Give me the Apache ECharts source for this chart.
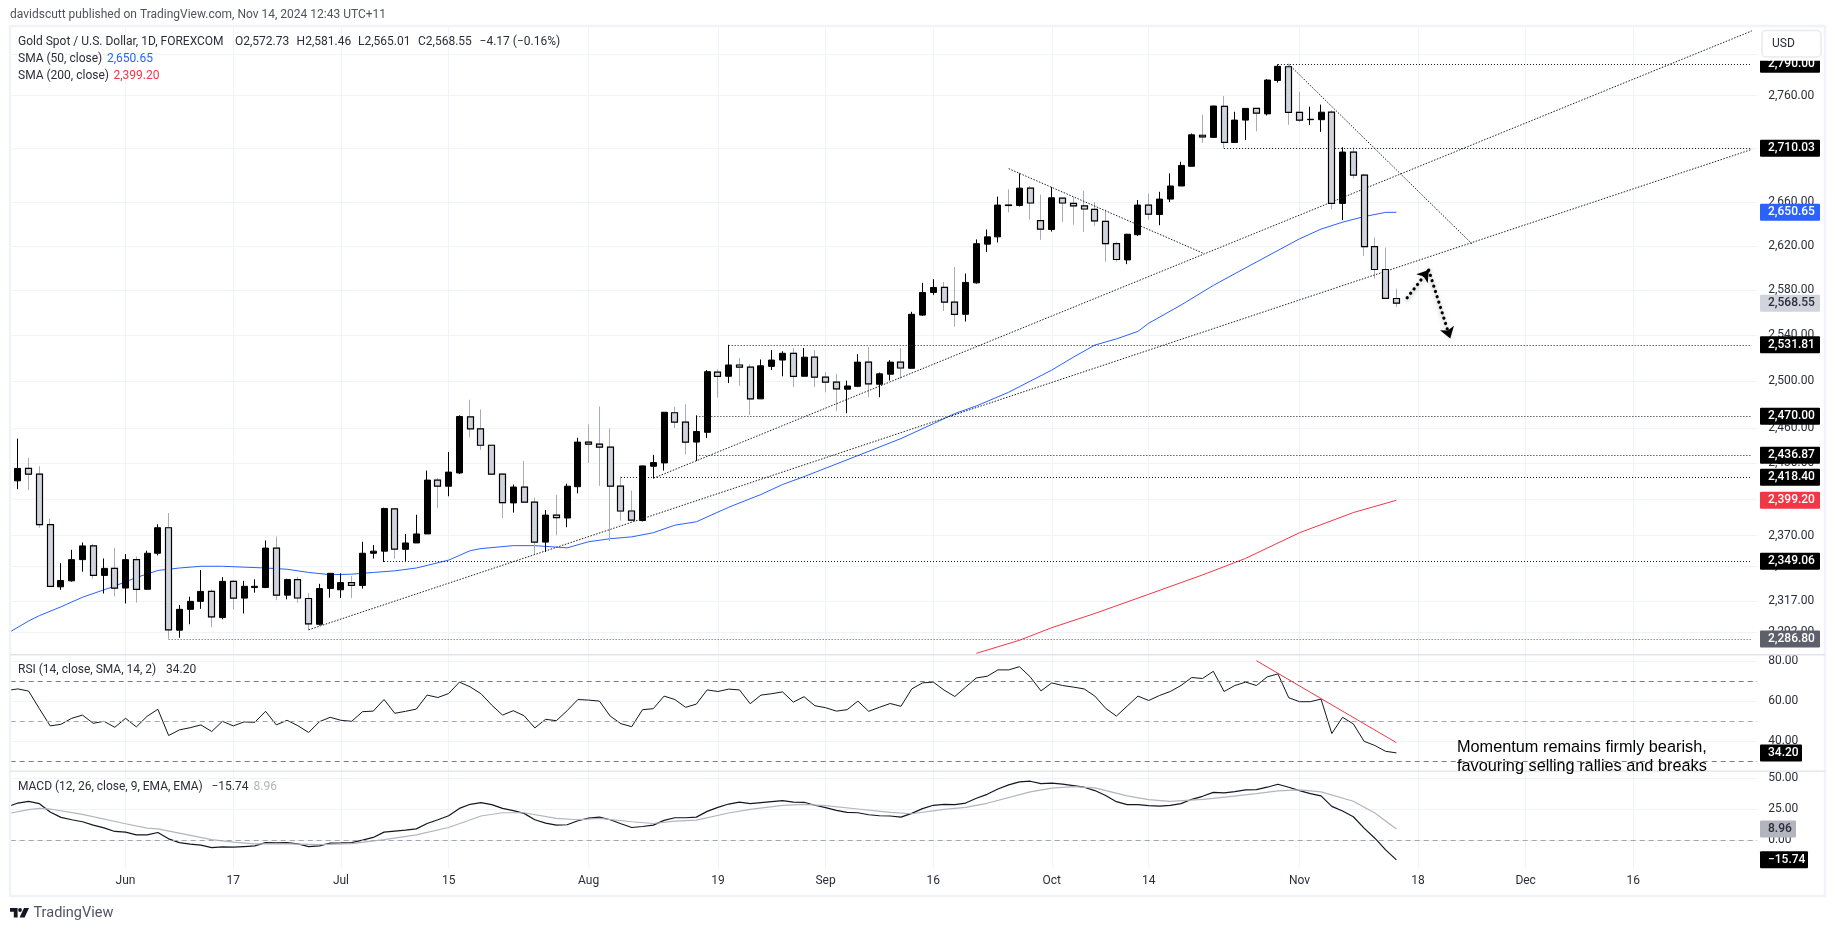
<!DOCTYPE html>
<html>
<head>
<meta charset="utf-8">
<title>Gold Spot / U.S. Dollar</title>
<script src="https://cdn.jsdelivr.net/npm/echarts@6/dist/echarts.min.js"></script>
<style>
    html, body { margin: 0; padding: 0; background: #fff; }
    #chart { width: 1835px; height: 931px; }
</style>
</head>
<body>
<div id="chart"></div>
<script>
// daily bars, May 17 to Nov 14 2024
var opens = [
    2376.5,2415.4,2425.8,2421,2379,2328.4,2333.2,2350.4,2361.6,2337.6,
    2343.3,2327.4,2350.4,2326.4,2355.6,2376.5,2293.7,2310.3,2316.7,2324.7,
    2303.7,2332.8,2319.3,2327.8,2327.8,2359.8,2321.7,2334.2,2319,2298.4,
    2327,2326,2331.8,2329.5,2355.6,2357.3,2392,2358.8,2364,2371.4,
    2416,2410.9,2422,2469.4,2459.3,2445.3,2421,2397,2410.2,2397.6,
    2364.7,2386.9,2384.5,2410.5,2448,2446.3,2443.8,2410.9,2390.3,2382.4,
    2427.6,2430.4,2473,2465,2448,2456.3,2508,2504.4,2514.2,2512.4,
    2484.9,2513,2518.5,2524.4,2504.4,2521,2503.6,2499.3,2493.2,2495.7,
    2516.7,2497.5,2506.2,2516.7,2511.3,2558,2578.1,2582.6,2569.5,2558.7,
    2586.7,2621.6,2628.2,2657.3,2656.9,2672.9,2643.1,2634.9,2663.6,2658.8,
    2656.5,2653.3,2642.4,2622,2607.3,2630.2,2657.3,2648.6,2662.8,2674.9,
    2693.2,2722.3,2720.3,2749.7,2715.5,2736.6,2747.7,2742.5,2774.4,2787.6,
    2744,2737,2737,2744.1,2658.8,2706.5,2685,2619.3,2598.7,2572.73
];
var highs = [
    2416,2451,2434.7,2427.6,2384,2347.5,2358.4,2364.4,2363.3,2351.3,
    2360,2354.9,2353,2357.7,2379.3,2388.6,2313.7,2320.4,2342,2326.4,
    2336.2,2333.8,2333.2,2334.5,2366.1,2369.3,2334.9,2336.6,2323.4,2330.8,
    2339.3,2339.3,2337.2,2365,2362.3,2393,2392.5,2371.4,2387.2,2424,
    2417.8,2439.7,2470.8,2484.1,2475.9,2445.7,2421.2,2412.3,2432,2401.4,
    2391,2403.8,2413,2451.7,2462.9,2478.4,2459.6,2418.9,2407.3,2428,
    2437.2,2473.7,2478,2480.2,2470.8,2509.8,2510.5,2531.8,2520.4,2515,
    2519,2527.3,2526.2,2529,2529,2527.3,2508,2506.5,2500.7,2523.6,
    2530,2507.6,2518.5,2529,2560.9,2586.7,2590,2587.5,2600.9,2595,
    2625.9,2634.9,2665.1,2671.8,2686.6,2674.9,2667,2674,2664.4,2664.4,
    2670.6,2660,2653.3,2623.9,2631,2662,2667.9,2669.5,2686.6,2697.5,
    2723.9,2741.7,2750,2759.6,2744.5,2747.7,2748,2775.6,2790,2790,
    2763.6,2749.3,2751.3,2746.1,2711,2711,2686.2,2627.8,2618.5,2581.46
];
var lows = [
    2375,2408.4,2407.7,2376.5,2328.8,2326,2332.5,2340.6,2335,2323,
    2320.7,2315,2315.7,2326,2353.8,2287,2287.7,2298.4,2310.7,2296,
    2302.3,2310.3,2307,2323.7,2327.4,2317.7,2318.3,2315.7,2293.7,2297.4,
    2319.7,2319.4,2319.4,2327,2351.3,2348.5,2351,2348.9,2364,2371.4,
    2392.8,2402.5,2421,2452,2441.4,2421,2384.5,2389,2397.6,2354.5,
    2356.6,2370.3,2376.9,2405,2430.3,2411.2,2365.5,2382.4,2381.7,2381.7,
    2417.5,2424,2460,2437.6,2432,2451.4,2486,2498.5,2496.2,2471,
    2484.9,2509.8,2504.4,2495,2504.4,2495,2490.6,2474.4,2472.6,2495,
    2486.3,2486.3,2500.7,2502.2,2511.3,2557.2,2575.9,2561.6,2547.8,2552.3,
    2586,2614.4,2623.2,2650.6,2656,2644,2625.5,2633,2641.9,2639.2,
    2632.6,2638,2605.8,2605.8,2603.5,2629,2644,2638.8,2660,2674.9,
    2693.2,2715.1,2720.3,2710,2715.5,2717.9,2725.9,2741,2772.4,2732.2,
    2734.6,2731.8,2725.5,2653.3,2643.5,2681.9,2611,2590.5,2572.9,2565.01
];
var closes = [
    2414.7,2425.8,2421,2379,2328.8,2333.5,2350.4,2361.6,2337.6,2343.3,
    2327.4,2350.4,2326.4,2355.6,2376.5,2294,2310.3,2316.7,2324.7,2304.3,
    2332.8,2319.3,2328.8,2328.8,2359.8,2321.7,2334.2,2319.4,2298.7,2327,
    2339.3,2331.8,2329.5,2355.6,2357.3,2392.4,2359,2364,2371.4,2416,
    2410.9,2422.7,2469.8,2459.3,2445.3,2421,2397.2,2410.2,2397.6,2364.7,
    2386.9,2384.8,2410.9,2448,2446.3,2443.8,2410.9,2390.3,2382.8,2427.9,
    2430.7,2473.4,2465,2448,2457,2508.4,2504.4,2514.2,2512.4,2484.9,
    2513.5,2518.5,2524.4,2504.4,2521,2503.6,2499.3,2493.5,2496,2516.7,
    2497.8,2506.5,2516.7,2511.6,2558.7,2578.1,2582.6,2569.5,2558.7,2587.1,
    2622,2628.2,2657.3,2656.9,2672.9,2659.2,2635.3,2664,2659.2,2656.5,
    2653.7,2642.8,2622,2607.7,2630.6,2657.3,2649,2662.8,2674.9,2694,
    2722.7,2720.7,2750,2715.5,2736.6,2747.7,2743.3,2774.8,2788,2744,
    2736.6,2737.4,2744.1,2658.8,2706.5,2685,2619.3,2598.7,2572.9,2568.55
];

// moving averages as [bar number, price]
var sma50 = [
    [0,2291],[2,2301],[3,2305.3],[5,2312.3],[7,2320],[10,2329],[12,2335.9],[14,2341.6],[16,2343.6],[18,2345],
    [20,2345],[24,2343.6],[26,2342.6],[28,2340],[30,2338.2],[32,2338.6],[34,2340],[36,2341.3],[38,2343.6],[41,2350],
    [43,2357.7],[44,2359.4],[47,2361.8],[49,2361.8],[52,2360],[54,2365],[56,2367.5],[58,2369],[60,2372.4],[62,2378.6],
    [64,2381.4],[67,2393.4],[70,2404],[72,2412.3],[74,2418.9],[79,2436.6],[83,2451],[86,2463.6],[88,2472.3],[90,2478.8],
    [93,2490.6],[97,2509.8],[99,2521],[101,2531.6],[103,2537],[105,2543.6],[106,2550.8],[109,2566.9],[112,2584.4],[113,2589.7],
    [116,2605.4],[120,2626.4],[122,2635.3],[124,2641.6],[126,2646.7],[128,2650.6],[129,2650.65]
];
var sma200 = [
    [90,2275.4],[94,2285.7],[97,2295.7],[101,2307],[106,2322.4],[111,2338],[115,2351.4],[120,2372.4],[122,2379],[125,2389],[129,2399.2]
];

var rsi = [
    65.4,66.2,65.1,56.3,47.7,48.5,51.5,53.1,49,50,
    47,51.5,47.2,52.5,56,42.9,45.7,46.8,48.2,44.9,
    50,47.7,49.7,49.5,55,48.2,50.5,47.8,44.4,49.8,
    52,50.5,50,54.8,55.1,60.9,54,55,56.1,63.1,
    61.9,63.9,69.6,67.2,63.8,58.1,53.1,55.3,52.8,46.7,
    51,50.3,55.3,60.9,60.6,60.1,52.6,48.8,47.3,55.8,
    56.3,62.6,60.9,57,58.6,65.7,64.9,66.1,65.7,58.8,
    63.1,63.8,64.7,59.6,62.3,57.8,56.8,55.1,55.8,60.1,
    55,57,58.9,57.5,66.2,69.2,69.6,65.6,62.4,67.1,
    71.7,72.5,75.7,75.7,77.3,72.2,65.2,69.2,67.9,67.1,
    66.2,62.6,56.5,52.6,57.6,62.6,60.4,62.9,64.9,67.9,
    71.9,71.4,75,64.9,67.9,69.6,67.9,72.2,73.7,61.8,
    59.8,59.8,61.1,43.9,52,48.7,40,37.9,35,34.2
];
var rsiTrend = [[116,80.3],[129,39.3]];

var macd = [
    26.6,29.8,31.2,29.3,22.6,18.3,16.4,14.8,12.1,9.9,
    7,6.5,4.3,4.3,6.2,1.1,-1.9,-3.2,-4,-5.9,
    -5.4,-5.6,-5.1,-4.6,-1.9,-2.2,-1.9,-3,-5.1,-4.6,
    -2.4,-2.2,-1.9,0,2.2,6.5,7.3,8.1,9.1,13.4,
    16.4,19.6,25.5,28.8,30.1,28.5,25.5,23.7,21.5,16.4,
    13.7,12.1,12.4,15.6,17.7,18.5,16.4,13.2,10.2,11,
    12.1,15.9,18,18,18.5,23.1,26.3,29,30.6,29.3,
    30.1,30.9,31.7,30.6,30.4,28,26.1,23.9,22.3,22,
    20.4,19.6,19.4,18.5,21.5,25.3,28,28.8,28.5,29.8,
    33.6,36.8,41.1,44.4,46.8,47.3,45.4,45.7,44.9,43.8,
    42.5,39.8,35.8,30.9,28.5,28.5,27.7,27.4,28,29.3,
    32.8,35.2,38.4,37.9,39,40.3,40.6,42.5,44.9,42.5,
    39.8,37.4,35.5,27.1,23.4,18.8,9.7,1.6,-7.8,-15.74
];
var macdSignal = [
    [0,21.2],[2,24.5],[3,25.5],[4,25],[7,20.7],[11,13.2],[13,9.7],[14,9.1],[19,0.5],[21,-1.6],
    [23,-3],[26,-3],[29,-3.5],[32,-2.7],[35,0.5],[38,4.3],[41,10.2],[44,19.4],[46,22],[48,22],
    [51,17.5],[53,16.4],[55,17.5],[58,14.8],[60,13.4],[62,15.3],[64,16.1],[67,21.8],[69,24.7],[72,28],
    [74,28.8],[76,27.7],[79,25],[82,22.3],[84,21.2],[87,24.7],[89,26.3],[91,29.6],[95,38.7],[97,41.7],
    [99,43],[101,41.9],[104,35.5],[106,32.5],[108,31.2],[111,32.8],[112,33.6],[116,37.4],[118,39.5],[120,40.3],
    [122,38.7],[125,31.2],[127,21.8],[129,8.96]
];

// horizontal levels: price and the bar they start from
var levelPrices = [2790, 2710.03, 2531.81, 2470, 2436.87, 2418.4, 2349.06, 2286.8];
var levelStarts = [118, 113, 67, 64, 64, 57, 35, 15];

// trend lines as [bar, price] to [bar, price]
var trendLines = [
    [[28,2294],[162,2709]],
    [[60,2417.5],[162,2822.4]],
    [[119,2790],[136,2622]],
    [[93,2691],[111,2613.6]]
];
var arrowLegs = [
    [[129.9,2573.4],[131.5,2598.2]],
    [[131.5,2598.2],[134,2537.4]]
];

var priceTicks = [2800,2760,2710,2660,2620,2580,2540,2500,2460,2430,2400,2370,2345,2317,2292];
var rsiTicks = [80,60,40];
var macdTicks = [50,25,0];
var rsiBands = [70,50,30];

var tickLabels = {
    '2024-06-03':'Jun','2024-06-17':'17','2024-07-01':'Jul','2024-07-15':'15',
    '2024-08-01':'Aug','2024-08-19':'19','2024-09-02':'Sep','2024-09-16':'16',
    '2024-10-01':'Oct','2024-10-14':'14','2024-11-01':'Nov','2024-11-18':'18',
    '2024-12-02':'Dec','2024-12-16':'16'
};

// weekdays only, the chart has no gaps for weekends
var categories = [];
var t = Date.UTC(2024, 4, 17);
while (categories.length < 163) {
    var d = new Date(t);
    if (d.getUTCDay() !== 0 && d.getUTCDay() !== 6) categories.push(d.toISOString().slice(0, 10));
    t += 86400000;
}

var lastBar = closes.length - 1;
var FONT = 'Roboto';
var textColor = '#2a2e39';
var gridColor = '#f0f3fa';

function fmt(v) {
    return Number(v).toLocaleString('en-US', {minimumFractionDigits: 2, maximumFractionDigits: 2}).replace('-', '\u2212');
}

var candleRows = [], bodyRows = [];
for (var i = 0; i < closes.length; i++) {
    candleRows.push([opens[i], closes[i], lows[i], highs[i]]);
    // second pass draws only the falling bodies, so they get a black edge and keep the gray wick
    if (closes[i] <= opens[i]) bodyRows.push([opens[i], closes[i], closes[i], opens[i]]);
    else bodyRows.push(['-', '-', '-', '-']);
}

function isTick(index, value) {
    return tickLabels[value] !== undefined;
}

function xAxis(gridIndex, showLabels) {
    return {
        type: 'category', gridIndex: gridIndex, data: categories, boundaryGap: true,
        axisLine: {show: false}, axisTick: {show: false},
        axisLabel: {
            show: showLabels, interval: isTick, margin: 7, fontFamily: FONT, fontSize: 12, color: textColor,
            formatter: function (v) { return tickLabels[v] || ''; }
        },
        splitLine: {show: true, interval: isTick, alignWithLabel: true, lineStyle: {color: gridColor, width: 1}}
    };
}

function yAxis(gridIndex, type, min, max, ticks) {
    return {
        type: type, gridIndex: gridIndex, position: 'right', min: min, max: max, scale: true,
        axisLine: {show: false},
        axisTick: {show: false, customValues: ticks},
        axisLabel: {customValues: ticks, margin: 11, fontFamily: FONT, fontSize: 12, color: textColor, formatter: fmt},
        splitLine: {show: true, lineStyle: {color: gridColor, width: 1}}
    };
}

// value tags on the right hand scale
function tagSeries(axisIndex, values, fills, inks, widths) {
    return {
        type: 'custom', xAxisIndex: axisIndex, yAxisIndex: axisIndex, z: 20, silent: true,
        encode: {x: 0, y: 1},
        data: values.map(function (v) { return [0, v]; }),
        renderItem: function (params, api) {
            var y = api.coord([0, api.value(1)])[1];
            var n = params.dataIndex;
            return {
                type: 'group',
                children: [
                    {type: 'rect', shape: {x: 1760, y: y - 8.5, width: widths[n], height: 17, r: 1}, style: {fill: fills[n]}},
                    {type: 'text', style: {
                        text: fmt(values[n]), x: 1768, y: y, fill: inks[n],
                        font: '500 12px ' + FONT, textAlign: 'left', textVerticalAlign: 'middle'
                    }}
                ]
            };
        }
    };
}

var markLines = [];
levelPrices.forEach(function (p, n) {
    markLines.push([
        {coord: [levelStarts[n], p], lineStyle: {color: n === 7 ? '#50535e' : '#131722', width: 1, type: [1, 2]}},
        {coord: [162, p]}
    ]);
});
trendLines.forEach(function (l) {
    markLines.push([
        {coord: l[0], lineStyle: {color: '#1e2026', width: 1, type: [1.5, 1.5]}},
        {coord: l[1]}
    ]);
});
arrowLegs.forEach(function (l) {
    markLines.push([
        {coord: l[0], symbol: 'none', lineStyle: {
            color: '#000', width: 3.2, type: [0.1, 5.5], cap: 'round',
            shadowBlur: 4, shadowColor: 'rgba(0,0,0,0.35)', shadowOffsetY: 2
        }},
        {coord: l[1], symbol: 'arrow', symbolSize: 11}
    ]);
});

function label(text, x, y, color, font) {
    return {
        type: 'text', z: 60, silent: true,
        style: {text: text, x: x, y: y, fill: color || textColor, font: font || ('12px ' + FONT), textVerticalAlign: 'middle'}
    };
}

var option = {
    animation: false,
    backgroundColor: '#fff',
    grid: [
        {left: 1.7, width: 1755.5, top: 26, height: 628.6},
        {left: 1.7, width: 1755.5, top: 654.6, height: 116.4},
        {left: 1.7, width: 1755.5, top: 771, height: 97}
    ],
    xAxis: [xAxis(0, false), xAxis(1, false), xAxis(2, true)],
    yAxis: [
        yAxis(0, 'log', 2274.4, 2827.2, priceTicks),
        yAxis(1, 'value', 25.15, 83.35, rsiTicks),
        yAxis(2, 'value', -22.3, 55.5, macdTicks)
    ],
    series: [
        {
            name: 'SMA 50', type: 'line', data: sma50, showSymbol: false, z: 3, silent: true,
            lineStyle: {color: '#2962ff', width: 1},
            markLine: {silent: true, symbol: 'none', label: {show: false}, animation: false, data: markLines}
        },
        {name: 'SMA 200', type: 'line', data: sma200, showSymbol: false, z: 3, silent: true, lineStyle: {color: '#f23645', width: 1}},
        {
            name: 'Gold', type: 'candlestick', data: candleRows, barWidth: 6.5, z: 4, silent: true,
            itemStyle: {color: '#000', borderColor: '#000', color0: '#d1d4dc', borderColor0: '#a9acb5', borderWidth: 1}
        },
        {
            name: 'Gold bodies', type: 'candlestick', data: bodyRows, barWidth: 6.5, z: 5, silent: true,
            itemStyle: {color: '#000', borderColor: '#000', color0: '#d1d4dc', borderColor0: '#000', borderWidth: 1.2}
        },
        {
            name: 'RSI', type: 'line', xAxisIndex: 1, yAxisIndex: 1, data: rsi, showSymbol: false, silent: true,
            lineStyle: {color: '#131722', width: 1},
            markLine: {
                silent: true, symbol: 'none', label: {show: false}, animation: false,
                data: rsiBands.map(function (b) {
                    return {yAxis: b, lineStyle: {color: b === 50 ? '#a5a7ad' : '#787b86', width: 1, type: [5, 4]}};
                })
            }
        },
        {name: 'RSI trend', type: 'line', xAxisIndex: 1, yAxisIndex: 1, data: rsiTrend, showSymbol: false, silent: true, lineStyle: {color: '#f23645', width: 1}},
        {
            name: 'MACD', type: 'line', xAxisIndex: 2, yAxisIndex: 2, data: macd, showSymbol: false, silent: true,
            lineStyle: {color: '#131722', width: 1.2},
            markLine: {
                silent: true, symbol: 'none', label: {show: false}, animation: false,
                data: [{yAxis: 0, lineStyle: {color: '#a5a7ad', width: 1, type: [5, 4]}}]
            }
        },
        {name: 'Signal', type: 'line', xAxisIndex: 2, yAxisIndex: 2, data: macdSignal, showSymbol: false, silent: true, lineStyle: {color: '#b2b5be', width: 1.2}},
        tagSeries(0,
            levelPrices.concat([closes[lastBar], sma50[sma50.length - 1][1], sma200[sma200.length - 1][1]]),
            ['#000','#000','#000','#000','#000','#000','#000','#5d606b','#d1d4dc','#2962ff','#f23645'],
            ['#fff','#fff','#fff','#fff','#fff','#fff','#fff','#fff','#2a2e39','#fff','#fff'],
            [60,60,60,60,60,60,60,60,60,60,60]),
        tagSeries(1, [rsi[lastBar]], ['#000'], ['#fff'], [42]),
        tagSeries(2, [macdSignal[macdSignal.length - 1][1], macd[lastBar]], ['#b2b5be', '#000'], ['#2a2e39', '#fff'], [36, 48])
    ],
    graphic: [
        // trims the first bar at the chart edge
        {type: 'rect', z: 50, silent: true, shape: {x: 0, y: 20, width: 10, height: 880}, style: {fill: '#fff'}},
        // currency button, it sits over the top of the scale
        {type: 'rect', z: 50, silent: true, shape: {x: 1758.5, y: 26, width: 67, height: 34.7}, style: {fill: '#fff'}},
        {type: 'rect', z: 51, silent: true, shape: {x: 10, y: 26, width: 1815, height: 870}, style: {fill: 'none', stroke: '#f0f3fa', lineWidth: 2.5}},
        {type: 'rect', z: 51, silent: true, shape: {x: 10, y: 654, width: 1815, height: 1.4}, style: {fill: '#e0e3eb'}},
        {type: 'rect', z: 51, silent: true, shape: {x: 10, y: 770.4, width: 1815, height: 1.4}, style: {fill: '#e0e3eb'}},
        {type: 'rect', z: 52, silent: true, shape: {x: 1762, y: 30.5, width: 59, height: 26.5, r: 4}, style: {fill: '#fff', stroke: '#e8eaf0', lineWidth: 1.5}},

        label('USD', 1772, 44),
        label('davidscutt published on TradingView.com, Nov 14, 2024 12:43 UTC+11', 10, 14.5, '#50535e'),
        label('Gold Spot / U.S. Dollar, 1D, FOREXCOM', 18, 41.5),
        label('O2,572.73', 235, 41.5),
        label('H2,581.46', 296.6, 41.5),
        label('L2,565.01', 358, 41.5),
        label('C2,568.55', 418, 41.5),
        label('\u22124.17 (\u22120.16%)', 479.6, 41.5),
        label('SMA (50, close)', 18, 58.5),
        label('2,650.65', 107, 58.5, '#2962ff'),
        label('SMA (200, close)', 18, 76),
        label('2,399.20', 113.5, 76, '#f23645'),
        label('RSI (14, close, SMA, 14, 2)', 18, 670),
        label('34.20', 166, 670),
        label('MACD (12, 26, close, 9, EMA, EMA)', 18, 787),
        label('\u221215.74', 211.5, 787),
        label('8.96', 253.5, 787, '#b2b5be'),

        label('Momentum remains firmly bearish,', 1457, 747.5, '#000', '16.3px "Liberation Sans"'),
        label('favouring selling rallies and breaks', 1457, 767, '#000', '16.3px "Liberation Sans"'),

        // TradingView mark
        {type: 'polygon', z: 60, silent: true, shape: {points: [[10,908],[17.6,908],[17.6,917.6],[13.8,917.6],[13.8,911.8],[10,911.8]]}, style: {fill: '#131722'}},
        {type: 'polygon', z: 60, silent: true, shape: {points: [[24,908],[29,908],[24.6,917.6],[19.6,917.6]]}, style: {fill: '#131722'}},
        {type: 'circle', z: 60, silent: true, shape: {cx: 20, cy: 910, r: 1.9}, style: {fill: '#131722'}},
        label('TradingView', 33.5, 913.5, '#50535e', '14.5px ' + FONT)
    ]
};

var chart = echarts.init(document.getElementById('chart'), null, {renderer: 'canvas'});
chart.setOption(option);
</script>
</body>
</html>
